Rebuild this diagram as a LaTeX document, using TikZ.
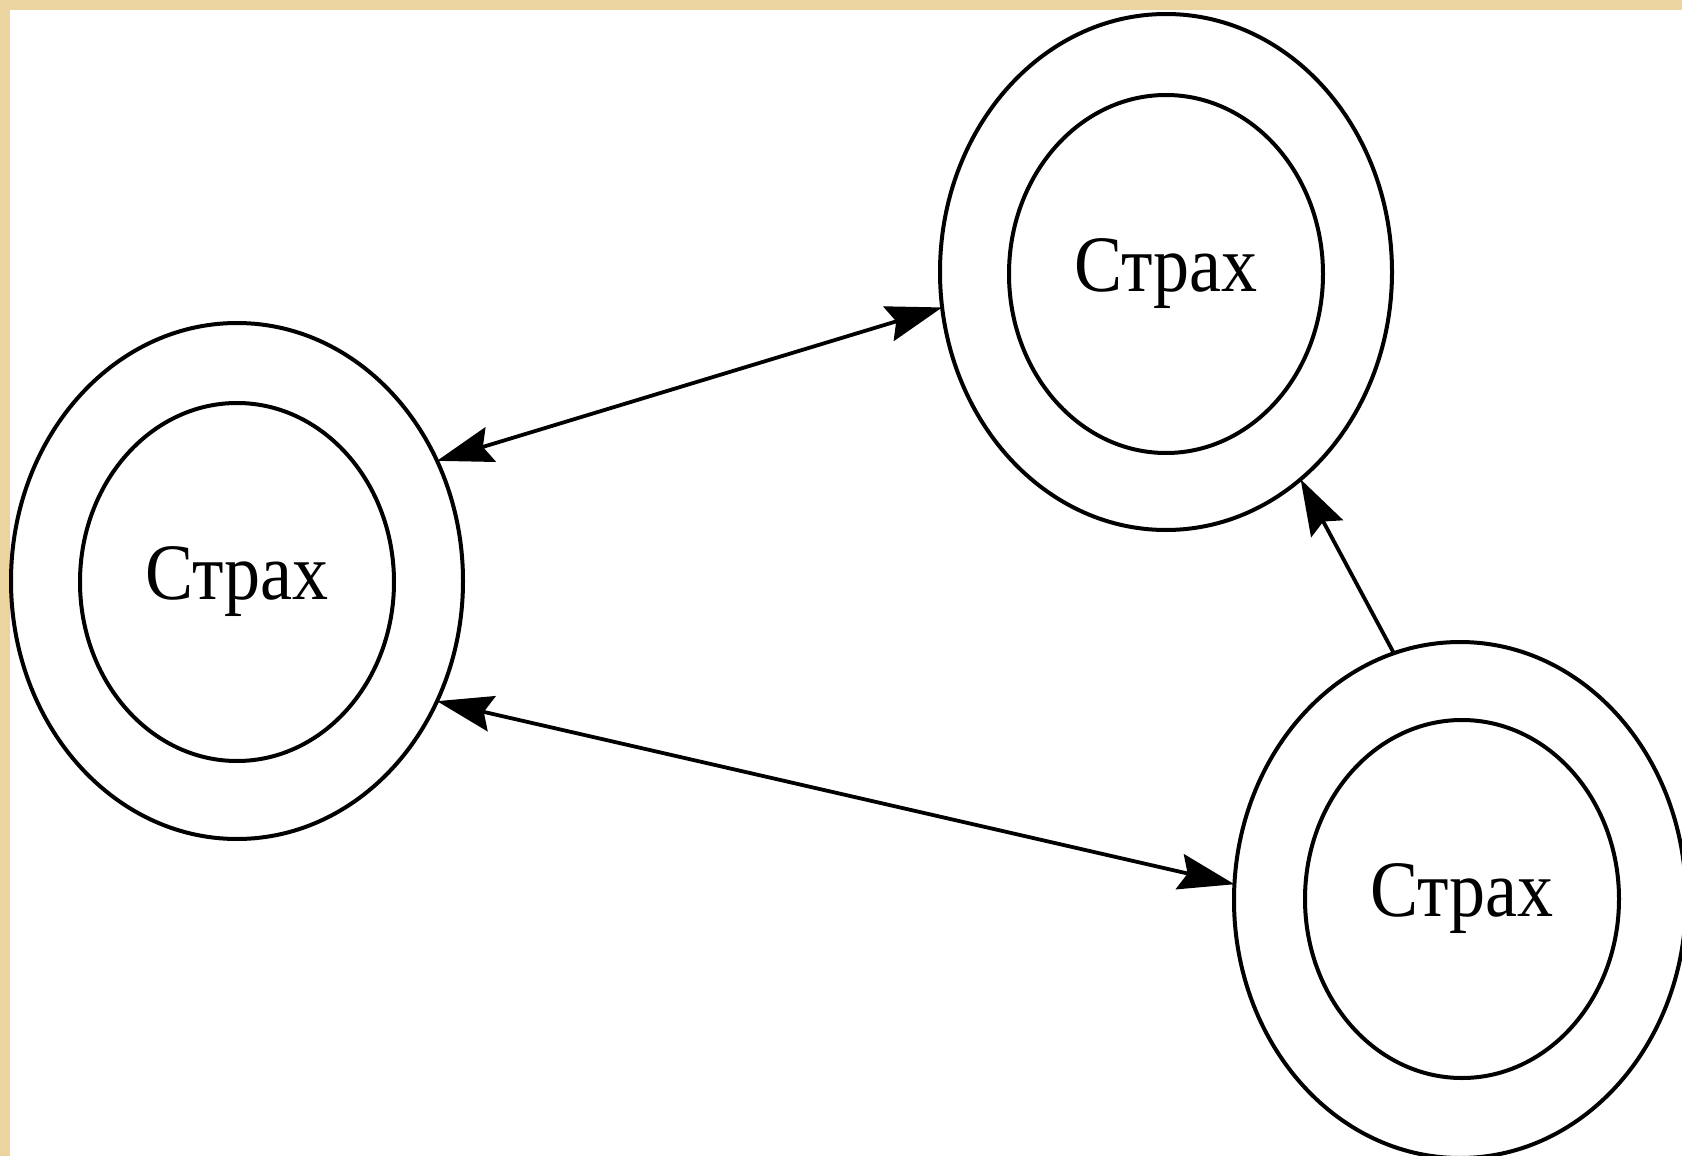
\documentclass[tikz,border=0pt]{standalone}
\usepackage{graphicx}
\usepackage{fontspec}
\setmainfont{Liberation Serif}
\usetikzlibrary{arrows.meta,shapes.geometric}
\definecolor{beige}{RGB}{236,212,160}
\begin{document}
\begin{tikzpicture}[x=0.5pt,y=-0.5pt,
  outerring/.style={ellipse, draw, line width=2pt, minimum width=226pt, minimum height=258pt, inner sep=0pt, outer sep=0pt},
  innerring/.style={ellipse, draw, line width=2pt, minimum width=157pt, minimum height=179pt, inner sep=0pt, outer sep=0pt, font=\fontsize{40}{48}\selectfont},
  tip/.tip={Stealth[length=28pt,width=18pt,inset=4pt]},
  twolink/.style={line width=1.9pt, tip-tip},
  onelink/.style={line width=1.9pt, -tip}]
\useasboundingbox (0,0) rectangle (1682,1156);
\clip (0,0) rectangle (1682,1156);
\fill[white] (0,0) rectangle (1682,1156);
\fill[beige] (0,0) rectangle (1682,10);
\fill[beige] (0,0) rectangle (10,1156);
% left
\node[outerring] (L) at (237,581) {};
\node[innerring] (Li) at (237,582) {\scalebox{0.9}[1]{Страх}};
% top
\node[outerring] (T) at (1166,272) {};
\node[innerring] (Ti) at (1166,274) {\scalebox{0.9}[1]{Страх}};
% bottom right
\node[outerring] (B) at (1460,900) {};
\node[innerring] (Bi) at (1462,899) {\scalebox{0.9}[1]{Страх}};
% connectors
\draw[twolink] (L.31.6) -- (T.189.8);
\draw[twolink] (L.-31) -- (B.176);
\draw[onelink] (B.105) -- (T.-57);
\end{tikzpicture}
\end{document}
